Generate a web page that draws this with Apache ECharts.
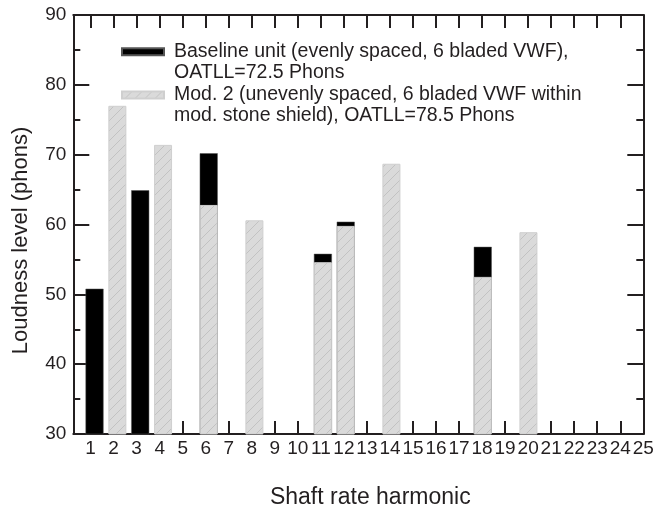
<!DOCTYPE html>
<html>
<head>
<meta charset="utf-8">
<script src="https://cdn.jsdelivr.net/npm/echarts@6/dist/echarts.min.js"></script>
<style>
html,body{margin:0;padding:0;background:#fff;}
#chart{width:668px;height:514px;}
</style>
</head>
<body>
<div id="chart"></div>
<script>
// ---- data ----
const harmonics = [1,2,3,4,5,6,7,8,9,10,11,12,13,14,15,16,17,18,19,20,21,22,23,24,25];
// Baseline unit (black); null where no visible bar
const baseline = [50.8,null,64.9,null,null,70.2,null,null,null,null,55.8,60.4,null,null,null,null,null,56.8,null,null,null,null,null,null,null];
// Mod. 2 (hatched grey)
const mod2 = [null,77.0,null,71.4,null,62.8,null,60.6,null,null,54.6,59.8,null,68.7,null,null,null,52.5,null,58.9,null,null,null,null,null];
const yTickValues = [30,40,50,60,70,80,90];
const xTickValues = [1,2,3,4,5,6,7,8,9,10,11,12,13,14,15,16,17,18,19,20,21,22,23,24];
const xLabelValues = harmonics;
const seriesNames = ['Baseline', 'Mod2'];
const legendTexts = {
  'Baseline': 'Baseline unit (evenly spaced, 6 bladed VWF),\nOATLL=72.5 Phons',
  'Mod2': 'Mod. 2 (unevenly spaced, 6 bladed VWF within\nmod. stone shield), OATLL=78.5 Phons'
};
const xAxisTitle = 'Shaft rate harmonic';
const yAxisTitle = 'Loudness level (phons)';

// ---- hatch pattern ----
const pc = document.createElement('canvas');
pc.width = 10; pc.height = 10;
const ctx = pc.getContext('2d');
ctx.fillStyle = '#dadada';
ctx.fillRect(0,0,10,10);
ctx.strokeStyle = '#c0c0c0';
ctx.lineWidth = 0.9;
ctx.beginPath();
ctx.moveTo(-1,11); ctx.lineTo(11,-1);
ctx.stroke();
const hatch = {image: pc, repeat: 'repeat'};

const INK = '#231f20';
const FONT = "'Liberation Sans', Arial, Helvetica, sans-serif";

const toPairs = arr => harmonics.map((h,i)=>[h, arr[i]]).filter(p=>p[1]!=null);

const commonX = {
  type: 'value', min: 0.25, max: 25,
  axisLine: {show: true, onZero: false, lineStyle: {color: INK, width: 2}},
  axisTick: {show: true, inside: true, length: 13, customValues: xTickValues, lineStyle: {color: INK, width: 2}},
  splitLine: {show: false}
};
const commonY = {
  type: 'value', min: 30, max: 90, interval: 10,
  axisLine: {show: true, onZero: false, lineStyle: {color: INK, width: 2}},
  axisTick: {show: true, inside: true, length: 16, lineStyle: {color: INK, width: 2}},
  minorTick: {show: true, splitNumber: 2, length: 7, lineStyle: {color: INK, width: 2}},
  splitLine: {show: false}
};

const legendBase = {
  orient: 'vertical', left: 121, padding: 0,
  itemWidth: 42, itemHeight: 7, icon: 'rect',
  selectedMode: false,
  // leading empty line puts the first text line level with the swatch
  formatter: n => '\n' + legendTexts[n],
  textStyle: {fontFamily: FONT, fontSize: 19.5, color: INK, lineHeight: 21, padding: [0,0,0,5]}
};

const option = {
  animation: false,
  backgroundColor: '#fff',
  grid: {left: 73.3, right: 24.7, top: 15, bottom: 80, containLabel: false},
  legend: [
    Object.assign({}, legendBase, {top: 20.2, data: [seriesNames[0]]}),
    Object.assign({}, legendBase, {top: 63.5, data: [seriesNames[1]]})
  ],
  xAxis: [
    Object.assign({}, commonX, {
      position: 'bottom',
      name: xAxisTitle, nameLocation: 'middle', nameGap: 52,
      nameTextStyle: {fontFamily: FONT, fontSize: 23, color: INK, padding: [0,0,0,24]},
      axisLabel: {show: true, customValues: xLabelValues, margin: 5, fontFamily: FONT, fontSize: 19, color: INK}
    }),
    Object.assign({}, commonX, {position: 'top', axisLabel: {show: false}}),
    {type: 'value', min: 0.07, max: 25.03, show: false}
  ],
  yAxis: [
    Object.assign({}, commonY, {
      position: 'left',
      name: yAxisTitle, nameLocation: 'middle', nameGap: 41,
      nameTextStyle: {fontFamily: FONT, fontSize: 22, color: INK, padding: [0,32,0,0]},
      axisLabel: {show: true, margin: 7, fontFamily: FONT, fontSize: 19, color: INK}
    }),
    Object.assign({}, commonY, {position: 'right', axisLabel: {show: false}})
  ],
  series: [
    {
      name: seriesNames[0], type: 'bar', xAxisIndex: 2, yAxisIndex: 0,
      barWidth: 18, barGap: '-100%', clip: true,
      itemStyle: {color: '#000', borderColor: '#555', borderWidth: 0.5},
      data: toPairs(baseline)
    },
    {
      name: seriesNames[1], type: 'bar', xAxisIndex: 2, yAxisIndex: 0,
      barWidth: 18, barGap: '-100%', clip: true,
      itemStyle: {color: hatch, borderColor: '#cfcfcf', borderWidth: 1},
      data: toPairs(mod2)
    }
  ]
};

const chart = echarts.init(document.getElementById('chart'), null, {renderer: 'canvas'});
chart.setOption(option);
</script>
</body>
</html>
